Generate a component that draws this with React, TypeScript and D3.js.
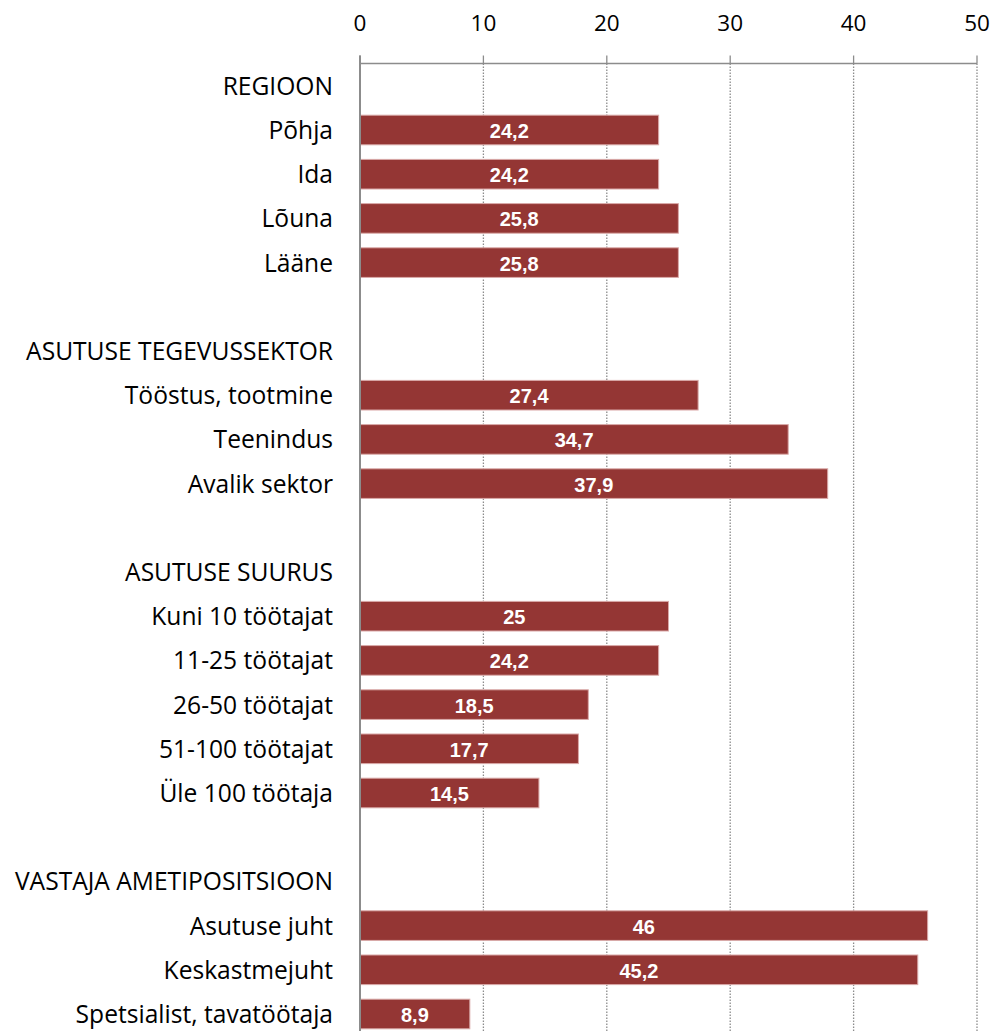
import React from "react";
import * as d3 from "d3";

const categories: string[] = [
  "REGIOON", "Põhja", "Ida", "Lõuna", "Lääne", "",
  "ASUTUSE TEGEVUSSEKTOR", "Tööstus, tootmine", "Teenindus", "Avalik sektor", "",
  "ASUTUSE SUURUS", "Kuni 10 töötajat", "11-25 töötajat", "26-50 töötajat", "51-100 töötajat", "Üle 100 töötaja", "",
  "VASTAJA AMETIPOSITSIOON", "Asutuse juht", "Keskastmejuht", "Spetsialist, tavatöötaja",
];
const values: (number | null)[] = [
  null, 24.2, 24.2, 25.8, 25.8, null,
  null, 27.4, 34.7, 37.9, null,
  null, 25, 24.2, 18.5, 17.7, 14.5, null,
  null, 46, 45.2, 8.9,
];
const ticks: number[] = [0, 10, 20, 30, 40, 50];

const W = 995;
const H = 1031;
const font = "'Open Sans', sans-serif";

export default function App() {
  const x = d3.scaleLinear().domain([0, 50]).range([360, 977]);
  const keys = categories.map((_, i) => String(i));
  const y = d3.scaleBand().domain(keys).range([63.7, 63.7 + 44.2 * categories.length]).paddingInner(0.33).paddingOuter(0.165);
  const bottom = H + 10;
  const fmt = (v: number) => String(v).replace(".", ",");
  return (
    <svg width={W} height={H} style={{ position: "absolute", left: 0, top: 0, background: "#fff" }}>
      {ticks.map((t) => (
        <g key={t}>
          {t > 0 && (
            <line x1={x(t)} x2={x(t)} y1={63.5} y2={bottom} stroke="#8c8c8c" strokeWidth={1.3} strokeDasharray="1.5 1.5" />
          )}
          <line x1={x(t)} x2={x(t)} y1={55.5} y2={63.5} stroke="#8c8c8c" strokeWidth={1.3} />
          <text x={x(t)} y={22} textAnchor="middle" dominantBaseline="central" fontFamily={font} fontSize={22.5} fill="#000">
            {t}
          </text>
        </g>
      ))}
      <line x1={x(0)} x2={x(50)} y1={63.5} y2={63.5} stroke="#8c8c8c" strokeWidth={1.3} />
      {categories.map((c, i) => {
        const v = values[i];
        const yy = y(String(i))!;
        const bh = y.bandwidth();
        return (
          <g key={i}>
            {c && (
              <text x={333} y={yy + bh / 2 - 0.5} textAnchor="end" dominantBaseline="central" fontFamily={font} fontSize={24.6} fill="#000">
                {c}
              </text>
            )}
            {v !== null && (
              <>
                <rect x={x(0)} y={yy} width={x(v) - x(0)} height={bh} fill="#943634" stroke="#d9a9a8" strokeWidth={1} />
                <text x={(x(0) + x(v)) / 2} y={yy + bh / 2 + 1} textAnchor="middle" dominantBaseline="central" fontFamily="'Liberation Sans', Arial, sans-serif" fontWeight="bold" fontSize={20} fill="#fff">
                  {fmt(v)}
                </text>
              </>
            )}
          </g>
        );
      })}
      <line x1={x(0)} x2={x(0)} y1={55.5} y2={bottom} stroke="#8c8c8c" strokeWidth={2} />
    </svg>
  );
}
